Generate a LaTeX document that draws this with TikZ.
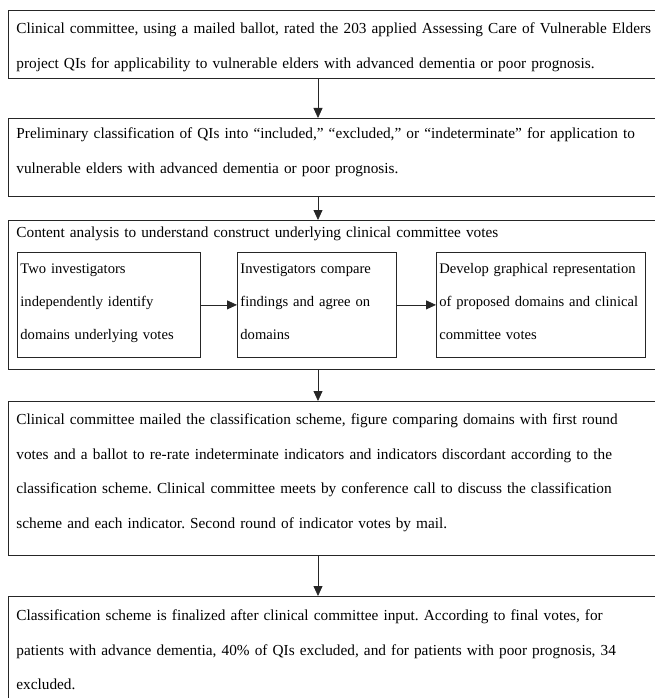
\documentclass[tikz,border=0pt]{standalone}
\usepackage{fontspec}
\setmainfont{Liberation Serif}
\usetikzlibrary{arrows.meta}
\begin{document}
\frenchspacing
\begin{tikzpicture}[x=1pt,y=-1pt,
  line width=0.8pt,
  bigbox/.style={draw=black!85, anchor=north west, inner xsep=8pt, inner ysep=0pt,
    align=left, text width=760pt, font=\fontsize{15.3}{34.7}\selectfont\frenchspacing},
  smallbox/.style={draw=black!85, anchor=north west, inner xsep=3pt, inner ysep=0pt,
    align=left, font=\fontsize{14.6}{33}\selectfont, text height=21pt, text depth=84pt},
  arr/.style={draw=black!85, -{Triangle[width=9pt,length=10pt]}}
]
\useasboundingbox (0,0) rectangle (655,698);
\clip (0,0) rectangle (655,698);

\node[bigbox, text height=23pt, text depth=45pt] (b1) at (8,10)
  {Clinical committee, using a mailed ballot, rated the 203 applied Assessing Care of Vulnerable Elders\\
   project QIs for applicability to vulnerable elders with advanced dementia or poor prognosis.};

\node[bigbox, text height=20pt, text depth=58pt] (b2) at (8,118)
  {Preliminary classification of QIs into “included,” “excluded,” or “indeterminate” for application to\\
   vulnerable elders with advanced dementia or poor prognosis.};

\node[bigbox, text height=17pt, text depth=132pt] (b3) at (8,220)
  {Content analysis to understand construct underlying clinical committee votes};

\node[smallbox, text width=177pt] (i1) at (17,252)
  {\mbox{Two investigators}\\ \mbox{independently identify}\\ \mbox{domains underlying votes}};
\node[smallbox, text width=153pt] (i2) at (237,252)
  {\mbox{Investigators compare}\\ \mbox{findings and agree on}\\ \mbox{domains}};
\node[smallbox, text width=203pt] (i3) at (436,252)
  {\mbox{Develop graphical representation}\\ \mbox{of proposed domains and clinical}\\ \mbox{committee votes}};

\node[bigbox, text height=23pt, text depth=131pt] (b4) at (8,401)
  {Clinical committee mailed the classification scheme, figure comparing domains with first round\\
   votes and a ballot to re-rate indeterminate indicators and indicators discordant according to the\\
   classification scheme. Clinical committee meets by conference call to discuss the classification\\
   scheme and each indicator. Second round of indicator votes by mail.};

\node[bigbox, text height=24pt, text depth=150pt] (b5) at (8,596)
  {Classification scheme is finalized after clinical committee input. According to final votes, for\\
   patients with advance dementia, 40\% of QIs excluded, and for patients with poor prognosis, 34\\
   excluded.};

\coordinate (ax) at (318,0);
\draw[arr] (b1.south -| ax) -- (b2.north -| ax);
\draw[arr] (b2.south -| ax) -- (b3.north -| ax);
\draw[arr] (b3.south -| ax) -- (b4.north -| ax);
\draw[arr] (b4.south -| ax) -- (b5.north -| ax);
\draw[arr] (i1.east) -- (i2.west);
\draw[arr] (i2.east) -- (i3.west);
\end{tikzpicture}
\end{document}
